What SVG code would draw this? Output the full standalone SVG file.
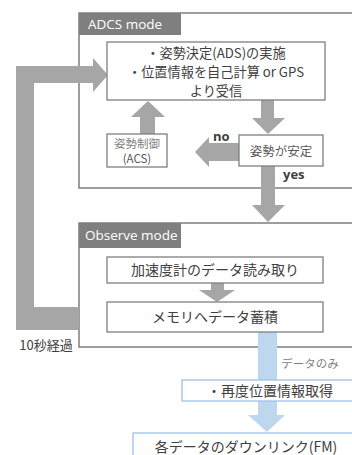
<svg xmlns="http://www.w3.org/2000/svg" width="352" height="455" viewBox="0 0 352 455">
<style>
.mode{fill:#fff;stroke:#7f7f7f;stroke-width:1.5}
.tab{fill:#7f7f7f}
.tabt{font-family:"Open Sans","Liberation Sans",sans-serif;font-size:13.5px;fill:#fff}
.box{fill:#fff;stroke:#7f7f7f;stroke-width:1.3}
.bbox{fill:#fff;stroke:#9dc3e6;stroke-width:1.3}
.t{font-family:"Noto Sans CJK JP","Liberation Sans",sans-serif;font-size:14px;fill:#404040;text-anchor:middle}
.ts{font-family:"Noto Sans CJK JP","Liberation Sans",sans-serif;font-size:11.5px;fill:#595959;text-anchor:middle}
.lbl{font-family:"Open Sans","Liberation Sans",sans-serif;font-size:13px;font-weight:bold;fill:#404040}
.ga{fill:#a6a6a6}
.ba{fill:#bdd7ee}
</style>
<g id="adcs-mode">
<rect class="mode" x="79" y="13" width="290" height="175"/>
<rect class="tab" x="79" y="13" width="102" height="22"/>
<text class="tabt" x="88" y="29">ADCS mode</text>
</g>
<g id="observe-mode">
<rect class="mode" x="79" y="223" width="290" height="124"/>
<rect class="tab" x="79" y="223" width="102" height="25"/>
<text class="tabt" x="85" y="240">Observe mode</text>
</g>
<g id="connectors">
<polygon class="ga" points="16,330 79,330 79,307 34,307 34,83 93,83 93,92 108,75 93,58 93,66 16,66"/>
<polygon class="ga" points="261,100 274,100 274,118 285,118 268,134 252,118 261,118"/>
<polygon class="ga" points="239,143 209,143 209,137 195,152 209,167 209,161 239,161"/>
<polygon class="ga" points="140,134 155,134 155,117 165,117 148,101 131,117 140,117"/>
<polygon class="ga" points="261,166 275,166 275,205 285,205 268,222 252,205 261,205"/>
<polygon class="ga" points="211,283 224,283 224,290 235,290 217,302 199,290 211,290"/>
<polygon class="ba" points="258,332 277,332 277,415 285,415 267,432 248,415 258,415"/>
</g>
<g id="ads">
<rect class="box" x="107" y="42" width="218" height="58"/>
<text class="t" x="216" y="57.5" style="font-size:13.2px">・姿勢決定(ADS)の実施</text>
<text class="t" x="216" y="76.5" style="font-size:13.2px">・位置情報を自己計算 or GPS</text>
<text class="t" x="216" y="95.5" style="font-size:13.2px">より受信</text>
</g>
<g id="acs">
<rect class="box" x="107" y="134" width="60" height="33"/>
<text class="ts" x="137" y="148" style="fill:#7f7f7f">姿勢制御</text>
<text class="ts" x="137" y="163">(ACS)</text>
</g>
<g id="stable">
<rect class="box" x="239" y="135" width="84" height="31"/>
<text class="ts" x="281" y="156" style="font-size:12.5px">姿勢が安定</text>
</g>
<text class="lbl" x="213" y="141">no</text>
<text class="lbl" x="283" y="179">yes</text>
<g id="accel">
<rect class="box" x="107" y="257" width="216" height="26"/>
<text class="t" x="215" y="275">加速度計のデータ読み取り</text>
</g>
<g id="memory">
<rect class="box" x="107" y="302" width="216" height="30"/>
<text class="t" x="215" y="322">メモリへデータ蓄積</text>
</g>
<text class="ts" x="46" y="350" style="font-size:13px;fill:#404040">10秒経過</text>
<text class="ts" x="310" y="368" style="fill:#7f7f7f">データのみ</text>
<g id="reget">
<rect class="bbox" x="182" y="380" width="180" height="21"/>
<text class="t" x="270" y="396">・再度位置情報取得</text>
</g>
<g id="downlink">
<rect class="bbox" x="133" y="433" width="230" height="30"/>
<text class="t" x="246" y="452">各データのダウンリンク(FM)</text>
</g>
</svg>
